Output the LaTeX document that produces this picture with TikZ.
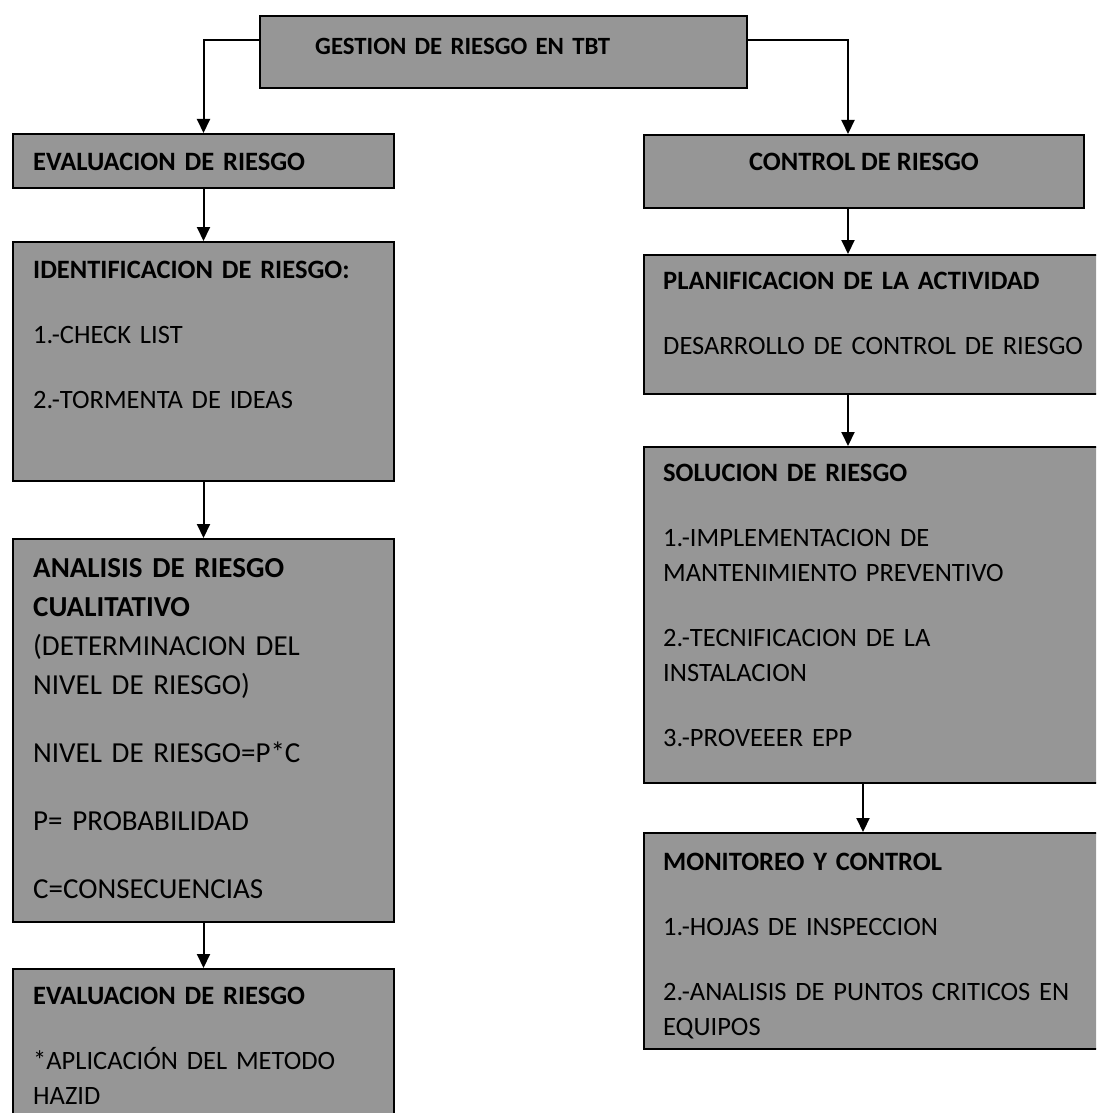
\documentclass[tikz,border=0pt]{standalone}
\usepackage{fontspec}
\setmainfont{Carlito}
\usetikzlibrary{arrows.meta,positioning}
\definecolor{boxgray}{RGB}{150,150,150}
\newcommand{\txtnormal}{\fontsize{26.5}{35}\selectfont}
\newcommand{\txtbig}{\fontsize{29}{39}\selectfont}
\newcommand{\txttitle}{\fontsize{24.8}{30}\selectfont}
\begin{document}
\begin{tikzpicture}[x=1pt,y=-1pt,>={Triangle[length=14pt,width=13pt]},
	box/.style={draw=black,line width=2pt,fill=boxgray,anchor=north west,inner sep=0pt},
	leftbox/.style={box,minimum width=381pt},
	rightbox/.style={box,minimum width=540pt},
	boxtxt/.style={anchor=base west,align=left,inner sep=0pt,text width=450pt,font=\txtnormal},
	link/.style={line width=2pt,->}]
	\useasboundingbox (0,0) rectangle (1096,1113);
	\clip (0,0) rectangle (1096,1113);
	\node[box,minimum width=487pt,minimum height=72pt] (gestion) at (259,15) {};
	\node[boxtxt,font=\txttitle] (gestiontxt) at ([shift={(56,40)}]gestion.north west) {\bfseries GESTION DE RIESGO EN TBT};
	% columna izquierda
	\node[leftbox,minimum height=54pt] (evalA) at (12,133) {};
	\node[boxtxt] (evalAtxt) at ([shift={(21,37.5)}]evalA.north west) {\bfseries EVALUACION DE RIESGO};
	\node[leftbox,minimum height=239pt] (ident) at (12,241) {};
	\node[boxtxt] (identtxt) at ([shift={(21,37.5)}]ident.north west) {\textbf{IDENTIFICACION DE RIESGO:}\\[30pt]
		1.-CHECK LIST\\[30pt]
		2.-TORMENTA DE IDEAS};
	\node[leftbox,minimum height=383pt] (analisis) at (12,538) {};
	\node[boxtxt,font=\txtbig] (analisistxt) at ([shift={(21,39.3)}]analisis.north west) {\textbf{ANALISIS DE RIESGO}\\
		\textbf{CUALITATIVO}\\
		(DETERMINACION DEL\\
		NIVEL DE RIESGO)\\[29pt]
		NIVEL DE RIESGO=P*C\\[29pt]
		P= PROBABILIDAD\\[29pt]
		C=CONSECUENCIAS};
	\node[leftbox,minimum height=170pt] (evalB) at (12,968) {};
	\node[boxtxt] (evalBtxt) at ([shift={(21,36.5)}]evalB.north west) {\textbf{EVALUACION DE RIESGO}\\[30pt]
		*APLICACIÓN DEL METODO\\
		HAZID};
	% columna derecha
	\node[box,minimum width=440pt,minimum height=73pt] (control) at (643,134) {};
	\node[anchor=base,inner sep=0pt,font=\txtnormal\bfseries] (controltxt) at ([yshift=-36.5pt]control.north) {CONTROL DE RIESGO};
	\node[rightbox,minimum height=139pt] (planif) at (643,254) {};
	\node[boxtxt] (planiftxt) at ([shift={(20,35.5)}]planif.north west) {\textbf{PLANIFICACION DE LA ACTIVIDAD}\\[30pt]
		DESARROLLO DE CONTROL DE RIESGO};
	\node[rightbox,minimum height=336pt] (solucion) at (643,446) {};
	\node[boxtxt] (soluciontxt) at ([shift={(20,35.5)}]solucion.north west) {\textbf{SOLUCION DE RIESGO}\\[30pt]
		1.-IMPLEMENTACION DE\\
		MANTENIMIENTO PREVENTIVO\\[30pt]
		2.-TECNIFICACION DE LA\\
		INSTALACION\\[30pt]
		3.-PROVEEER EPP};
	\node[rightbox,minimum height=216pt] (monitoreo) at (643,832) {};
	\node[boxtxt] (monitoreotxt) at ([shift={(20,38.5)}]monitoreo.north west) {\textbf{MONITOREO Y CONTROL}\\[30pt]
		1.-HOJAS DE INSPECCION\\[30pt]
		2.-ANALISIS DE PUNTOS CRITICOS EN\\
		EQUIPOS};
	% conectores
	\coordinate (rline) at (848,0);
	\coordinate (rlineb) at (863,0);
	\draw[link] ([yshift=12pt]gestion.west) -| (evalA.north);
	\draw[link] ([yshift=12pt]gestion.east) -| (control.north -| rline);
	\draw[link] (evalA.south) -- (ident.north);
	\draw[link] (ident.south) -- (analisis.north);
	\draw[link] (analisis.south) -- (evalB.north);
	\draw[link] (control.south -| rline) -- (planif.north -| rline);
	\draw[link] (planif.south -| rline) -- (solucion.north -| rline);
	\draw[link] (solucion.south -| rlineb) -- (monitoreo.north -| rlineb);
\end{tikzpicture}
\end{document}
